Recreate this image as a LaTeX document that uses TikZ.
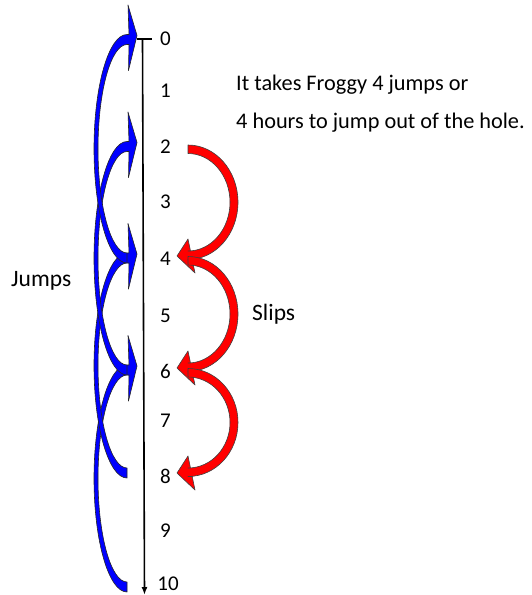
\documentclass[tikz,border=0pt]{standalone}
\usepackage{fontspec}
\setmainfont{Carlito}
\usetikzlibrary{arrows.meta}
\definecolor{jumpblue}{RGB}{0,0,255}
\definecolor{slipred}{RGB}{255,0,0}
\begin{document}
\begin{tikzpicture}[x=1pt,y=-1pt,
  txt/.style={font=\fontsize{22.3}{26}\selectfont, inner sep=0pt, anchor=base west},
  side/.style={font=\fontsize{23.5}{27}\selectfont, inner sep=0pt, anchor=base west},
  num/.style={font=\fontsize{21}{24}\selectfont, inner sep=0pt, anchor=base},
  bluearrow/.style={fill=jumpblue, draw=black!85, line width=0.6pt, line join=round},
  redarrow/.style={fill=slipred, draw=black!75, line width=0.6pt, line join=round},
  axis/.style={line width=1.6pt, draw=black}]
\useasboundingbox (0,0) rectangle (531,595);

% number line
\coordinate (top) at (142.5,39);
\coordinate (bot) at (144.5,595);
\coordinate (tickL) at (137,39);
\coordinate (tickR) at (152,39);
\draw[axis] (tickL) -- (tickR);
\draw[axis, -{Latex[length=8pt,width=6pt]}] (top) -- (bot);

% labels
\foreach \n/\yb in {0/45,1/97,2/153,3/208,4/265,5/322,6/378,7/427,8/483,9/537}
  \node[num] (n\n) at (165.5,\yb) {\n};
\node[num] (n10) at (168,590.5) {10};

% blue jumps
\foreach \ys/\ye in {587/370, 473/258, 370/146.5, 258/39.5}{
  \pgfmathsetmacro\ym{(\ys+\ye)/2}
  \pgfmathsetmacro\h{(\ys-\ye)/2}
  \pgfmathsetmacro\ryo{\h+5}
  \pgfmathsetmacro\ryi{\h-5}
  \path[bluearrow] (127,\ym+\ryo)
    arc[start angle=90, end angle=270, x radius=33, y radius=\ryo]
    -- (129,\ym-\ryo) -- (128,\ye-34.5) -- (137,\ye-4) -- (128.5,\ye+31)
    -- (129,\ym-\ryi) -- (127,\ym-\ryi)
    arc[start angle=270, end angle=90, x radius=29, y radius=\ryi] -- cycle;
}

% red slips
\foreach \ys/\ye in {146.5/258, 258/370, 370/475}{
  \pgfmathsetmacro\ym{(\ys+\ye)/2}
  \pgfmathsetmacro\h{(\ye-\ys)/2}
  \pgfmathsetmacro\ryo{\h+1.5}
  \pgfmathsetmacro\ryi{\h-7}
  \path[redarrow] (188,\ym-\ryo)
    arc[start angle=-90, end angle=90, x radius=50, y radius=\ryo]
    -- (192.2,\ym+\ryo) -- (195,\ye+15) -- (177,\ye-2) -- (188,\ye-19)
    -- (190.5,\ym+\ryi) -- (188,\ym+\ryi)
    arc[start angle=90, end angle=-90, x radius=42, y radius=\ryi] -- cycle;
}

% texts
\node[txt] (t1) at (236,90) {It takes Froggy 4 jumps or};
\node[txt] (t2) at (236,128.3) {4 hours to jump out of the hole.};
\node[side] (jumps) at (11,286.7) {Jumps};
\node[side] (slips) at (252,320) {Slips};
\end{tikzpicture}
\end{document}
